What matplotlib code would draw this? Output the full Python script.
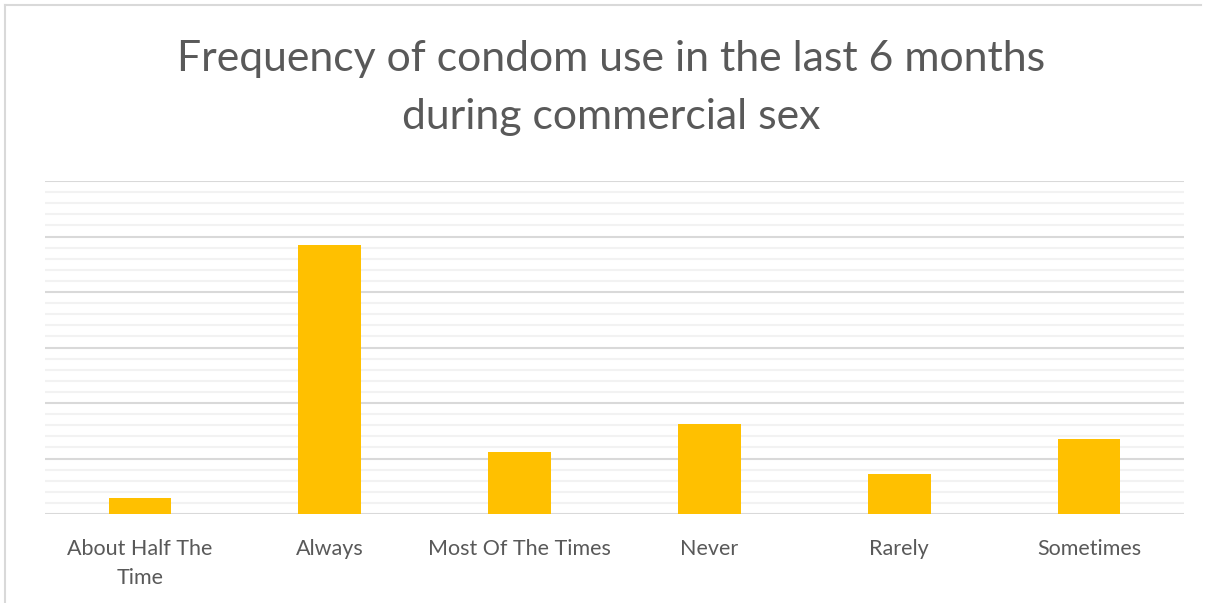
import numpy as np
import matplotlib.pyplot as plt
from matplotlib.ticker import MultipleLocator
from matplotlib.lines import Line2D

categories = ['About Half The\nTime', 'Always', 'Most Of The Times', 'Never', 'Rarely', 'Sometimes']
percentages = [2.9, 48.5, 11.2, 16.3, 7.2, 13.5]

W, H = 1211, 603
fig = plt.figure(figsize=(W / 100, H / 100), dpi=100)
plt.rcParams['font.family'] = ['Lato', 'DejaVu Sans']

# plot area in pixel coordinates of the reference
left, right, top, bottom = 45, 1184, 181, 514
ax = fig.add_axes([left / W, 1 - bottom / H, (right - left) / W, (bottom - top) / H])

x = np.arange(len(categories))
ax.bar(x, percentages, width=0.33, color='#ffc000', zorder=3)

ax.set_xlim(-0.5, len(categories) - 0.5)
ax.set_ylim(0, 60)
ax.yaxis.set_major_locator(MultipleLocator(10))
ax.yaxis.set_minor_locator(MultipleLocator(2))
ax.grid(axis='y', which='major', color='#d9d9d9', lw=1.5, zorder=0)
ax.grid(axis='y', which='minor', color='#f2f2f2', lw=1.5, zorder=0)
for s in ax.spines.values():
    s.set_visible(False)
ax.tick_params(axis='y', which='both', left=False, labelleft=False)
ax.tick_params(axis='x', length=0, pad=18)
ax.set_xticks(x)
ax.set_xticklabels(categories, fontsize=15.5, color='#595959', linespacing=1.55)

fig.text(611 / W, 1 - 88 / H, 'Frequency of condom use in the last 6 months\nduring commercial sex',
         ha='center', va='center', fontsize=30.8, color='#595959', linespacing=1.62)

# chart frame (only top and left edges visible in the crop)
fig.add_artist(Line2D([5 / W, 5 / W], [0, 1 - 5 / H], transform=fig.transFigure, color='#d9d9d9', lw=1.5))
fig.add_artist(Line2D([5 / W, 1201 / W], [1 - 5 / H, 1 - 5 / H], transform=fig.transFigure, color='#d9d9d9', lw=1.5))

fig.savefig('out.png', dpi=100)
